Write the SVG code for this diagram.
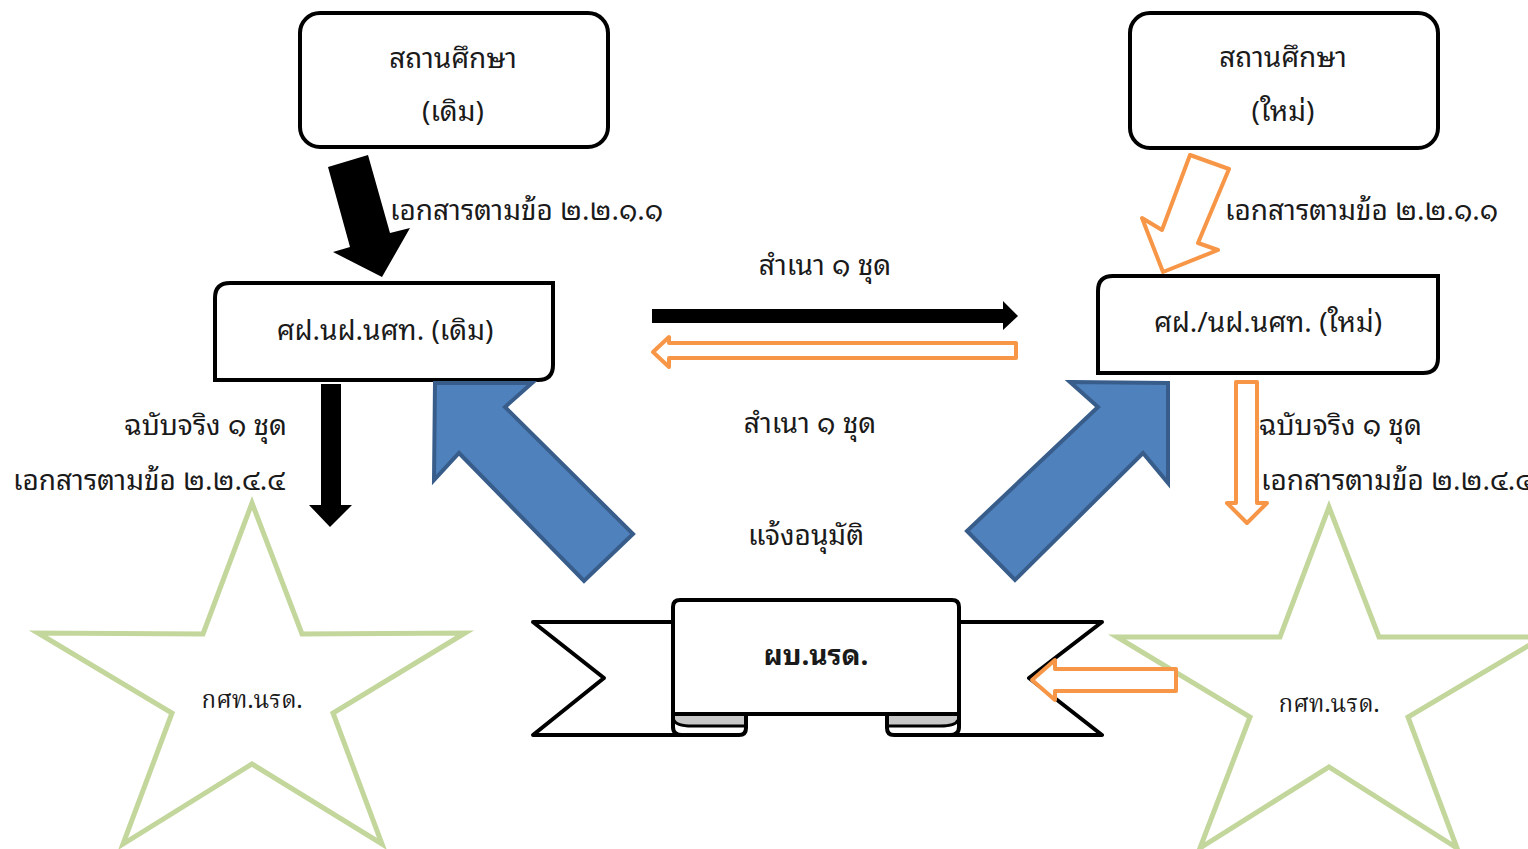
<svg xmlns="http://www.w3.org/2000/svg" width="1528" height="849" viewBox="0 0 1528 849">
<style>
text{font-family:"Noto Sans Thai Looped","Noto Sans Thai","Noto Sans","DejaVu Sans",sans-serif;font-size:28px;fill:#1a1a1a}
.serif{font-family:"Noto Serif Thai","Liberation Serif",serif;font-size:24px}
.box{fill:#fff;stroke:#000;stroke-width:4}
.star{fill:#fff;stroke:#C3D69B;stroke-width:5}
.blue{fill:#4F81BD;stroke:#385D8A;stroke-width:4;stroke-linejoin:miter}
.orange{fill:#fff;stroke:#F79646;stroke-width:4;stroke-linejoin:round}
.black{fill:#000}
.rib{fill:#fff;stroke:#000;stroke-width:4;stroke-linejoin:round}
</style>
<rect width="1528" height="849" fill="#fff"/>

<g id="star-left">
<polygon class="star" points="252,503 302,634 465,633 333,713 382,844 252,764 123,844 172,713 38,633 203,634"/>
<text class="serif" x="252" y="708" text-anchor="middle">กศท.นรด.</text>
</g>
<g id="star-right">
<polygon class="star" points="1329,507 1379,637 1543,637 1408,717 1457,848 1329,767 1200,848 1250,717 1117,637 1280,637"/>
<text class="serif" x="1329" y="712" text-anchor="middle">กศท.นรด.</text>
</g>

<g id="school-old">
<rect class="box" x="300" y="13" width="308" height="134" rx="20"/>
<text x="453" y="68" text-anchor="middle">สถานศึกษา</text>
<text x="453" y="121" text-anchor="middle">(เดิม)</text>
</g>
<g id="school-new">
<rect class="box" x="1130" y="13" width="308" height="135" rx="20"/>
<text x="1283" y="67" text-anchor="middle">สถานศึกษา</text>
<text x="1283" y="121" text-anchor="middle">(ใหม่)</text>
</g>
<g id="office-old">
<path class="box" d="M215,380 L215,298 Q215,283 230,283 L553,283 L553,365 Q553,380 538,380 Z"/>
<text x="385" y="340" text-anchor="middle">ศฝ.นฝ.นศท. (เดิม)</text>
</g>
<g id="office-new">
<path class="box" d="M1098,373 L1098,291 Q1098,276 1113,276 L1438,276 L1438,358 Q1438,373 1423,373 Z"/>
<text x="1268" y="332" text-anchor="middle">ศฝ./นฝ.นศท. (ใหม่)</text>
</g>

<g id="hq">
<polygon class="rib" points="700,622 533,622 604,678 533,735 700,735"/>
<polygon class="rib" points="930,622 1102,622 1029,678 1102,735 930,735"/>
<path class="rib" d="M673,710 L673,727 Q673,735 682,735 L739,735 Q746,735 746,728 L746,710"/>
<path class="rib" d="M887,710 L887,728 Q887,735 894,735 L950,735 Q959,735 959,727 L959,710"/>
<path class="box" d="M673,714 L673,607 Q673,600 680,600 L952,600 Q959,600 959,607 L959,714 Z"/>
<path d="M675,716 L744,716 L744,725 L690,725 Q676,725 675,719 Z" fill="#C8C8C8"/>
<path d="M674,720 Q676,726 692,726 L746,726" fill="none" stroke="#000" stroke-width="3"/>
<path d="M889,716 L957,716 L957,719 Q956,725 942,725 L889,725 Z" fill="#C8C8C8"/>
<path d="M887,726 L940,726 Q956,726 958,720" fill="none" stroke="#000" stroke-width="3"/>
<text x="816" y="665" text-anchor="middle" font-weight="bold" font-size="27">ผบ.นรด.</text>
</g>

<g id="connectors">
<polygon class="black" points="328,167 368,155 390,233 410,228 382,277 333,252 350,247"/>
<polygon class="orange" points="1190,155 1229,169 1198,243 1218,250 1163,272 1142,218 1162,230"/>
<polygon class="black" points="652,309 1003,309 1003,301 1018,316 1003,330 1003,323 652,323"/>
<polygon class="orange" points="1016,343 1016,358 669,358 669,367 653,352 669,337 669,343"/>
<polygon class="black" points="321,384 341,384 341,505 352,505 330,527 309,505 321,505"/>
<polygon class="orange" points="1236,382 1257,382 1257,503 1267,503 1247,523 1227,503 1236,503"/>
<polygon class="orange" points="1176,669 1176,691 1055,691 1055,700 1032,680 1055,660 1055,669"/>
<polygon class="blue" points="435,383 532,383 505,407 633,534 584,581 459,453 434,480"/>
<polygon class="blue" points="1070,382 1168,383 1168,483 1143,453 1015,580 967,531 1098,407"/>
</g>

<g id="labels">
<text x="390" y="220">เอกสารตามข้อ ๒.๒.๑.๑</text>
<text x="1225" y="220">เอกสารตามข้อ ๒.๒.๑.๑</text>
<text x="825" y="275" text-anchor="middle">สำเนา ๑ ชุด</text>
<text x="810" y="433" text-anchor="middle">สำเนา ๑ ชุด</text>
<text x="806" y="545" text-anchor="middle">แจ้งอนุมัติ</text>
<text x="287" y="435" text-anchor="end">ฉบับจริง ๑ ชุด</text>
<text x="13" y="490">เอกสารตามข้อ ๒.๒.๔.๔</text>
<text x="1259" y="435">ฉบับจริง ๑ ชุด</text>
<text x="1261" y="490">เอกสารตามข้อ ๒.๒.๔.๔</text>
</g>
</svg>
